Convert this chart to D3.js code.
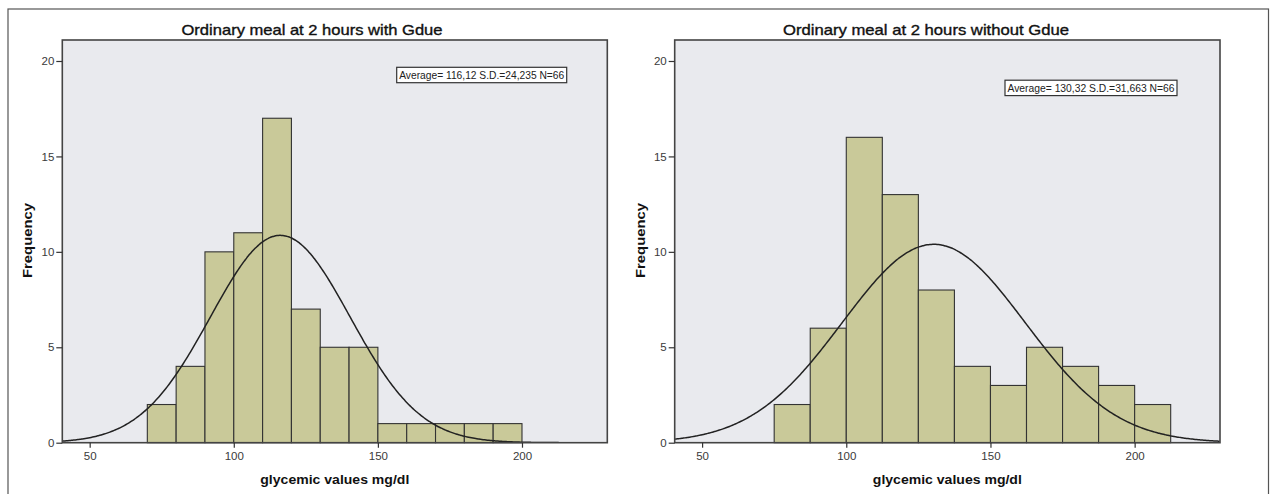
<!DOCTYPE html>
<html>
<head>
<meta charset="utf-8">
<script src="https://cdn.jsdelivr.net/npm/d3@7/dist/d3.min.js"></script>
<style>
  body { margin: 0; background: #fff; }
  text { font-family: "Liberation Sans", Arial, sans-serif; }
</style>
</head>
<body>
<svg width="1274" height="494"></svg>
<script>
// chart data
const titles = ["Ordinary meal at 2 hours with Gdue", "Ordinary meal at 2 hours without Gdue"];
const leftEdges = [70, 80, 90, 100, 110, 120, 130, 140, 150, 160, 170, 180, 190, 200];
const leftCounts = [2, 4, 10, 11, 17, 7, 5, 5, 1, 1, 1, 1, 1];
const rightEdges = [75, 87.5, 100, 112.5, 125, 137.5, 150, 162.5, 175, 187.5, 200, 212.5];
const rightCounts = [2, 6, 16, 13, 8, 4, 3, 5, 4, 3, 2];
const means = [116.12, 130.32];
const sds = [24.235, 31.663];
const ns = [66, 66];
const statLabels = ["Average= 116,12 S.D.=24,235 N=66", "Average= 130,32 S.D.=31,663 N=66"];
const xTicks = [50, 100, 150, 200];
const yTicks = [0, 5, 10, 15, 20];
const xLabel = "glycemic values mg/dl";
const yLabel = "Frequency";

let svg = d3.select("svg");

// outer frame
svg.append("rect")
    .attr("x", 8).attr("y", 9)
    .attr("width", 1260.5).attr("height", 500)
    .attr("fill", "none").attr("stroke", "#555").attr("stroke-width", 1.2);

let panels = [
    { left: 62.3, right: 607.3, titleX: 312, yLabX: 27, box: [396.7, 67.3, 170, 15.4],
      edges: leftEdges, counts: leftCounts },
    { left: 674.7, right: 1220, titleX: 926, yLabX: 640, box: [1005, 80.2, 172, 15.4],
      edges: rightEdges, counts: rightCounts }
];
let plotTop = 40, plotBottom = 442.7;

panels.forEach(function (p, i) {
    let x = d3.scaleLinear().domain([40.5, 229.6]).range([p.left, p.right]);
    let y = d3.scaleLinear().domain([0, 21.1]).range([plotBottom, plotTop]);
    let g = svg.append("g");

    g.append("text")
        .attr("x", p.titleX).attr("y", 34.7)
        .attr("text-anchor", "middle")
        .attr("textLength", i === 0 ? 261 : 286)
        .attr("lengthAdjust", "spacingAndGlyphs")
        .style("font-size", "14.5px").style("fill", "#111")
        .style("stroke", "#111").style("stroke-width", 0.35)
        .text(titles[i]);

    g.append("rect")
        .attr("x", p.left).attr("y", plotTop)
        .attr("width", p.right - p.left).attr("height", plotBottom - plotTop)
        .attr("fill", "#e9eaee");

    let clipId = "clip" + i;
    svg.append("clipPath").attr("id", clipId)
        .append("rect")
        .attr("x", p.left).attr("y", plotTop)
        .attr("width", p.right - p.left).attr("height", plotBottom - plotTop);

    let bins = p.counts.map(function (c, k) { return { x0: p.edges[k], x1: p.edges[k + 1], n: c }; });
    g.selectAll("rect.bar")
        .data(bins)
        .enter().append("rect")
        .attr("class", "bar")
        .attr("x", function (d) { return x(d.x0); })
        .attr("y", function (d) { return y(d.n); })
        .attr("width", function (d) { return x(d.x1) - x(d.x0); })
        .attr("height", function (d) { return y(0) - y(d.n); })
        .attr("fill", "#c9c999")
        .attr("stroke", "#333")
        .attr("stroke-width", 1.1);

    // fitted normal curve from the stated mean / S.D. / N
    let bw = p.edges[1] - p.edges[0];
    let dens = function (v) {
        return ns[i] * bw / (sds[i] * Math.sqrt(2 * Math.PI)) *
            Math.exp(-0.5 * Math.pow((v - means[i]) / sds[i], 2));
    };
    let line = d3.line()
        .x(function (v) { return x(v); })
        .y(function (v) { return y(dens(v)); })
        .curve(d3.curveBasis);
    g.append("path")
        .datum(d3.range(40.5, 229.7, 0.5))
        .attr("d", line)
        .attr("clip-path", "url(#" + clipId + ")")
        .attr("fill", "none")
        .attr("stroke", "#222")
        .attr("stroke-width", 1.5);

    g.append("rect")
        .attr("x", p.left).attr("y", plotTop)
        .attr("width", p.right - p.left).attr("height", plotBottom - plotTop)
        .attr("fill", "none").attr("stroke", "#444").attr("stroke-width", 1.6);

    let xAxis = g.append("g")
        .attr("transform", "translate(0," + plotBottom + ")")
        .call(d3.axisBottom(x).tickValues(xTicks).tickSize(5).tickSizeOuter(0).tickPadding(4));
    xAxis.select(".domain").remove();
    xAxis.selectAll("line").attr("stroke", "#333").attr("stroke-width", 1.2);
    xAxis.selectAll("text").style("font-size", "11.5px").style("fill", "#3a3a3a")
        .style("font-family", "'Liberation Sans', Arial, sans-serif");

    let yAxis = g.append("g")
        .attr("transform", "translate(" + p.left + ",0)")
        .call(d3.axisLeft(y).tickValues(yTicks).tickSize(6).tickSizeOuter(0).tickPadding(2));
    yAxis.select(".domain").remove();
    yAxis.selectAll("line").attr("stroke", "#333").attr("stroke-width", 1.2);
    yAxis.selectAll("text").style("font-size", "11.5px").style("fill", "#3a3a3a")
        .style("font-family", "'Liberation Sans', Arial, sans-serif");

    // stats box
    let b = p.box;
    g.append("rect")
        .attr("x", b[0]).attr("y", b[1]).attr("width", b[2]).attr("height", b[3])
        .attr("fill", "#fff").attr("stroke", "#333").attr("stroke-width", 1.2);
    g.append("text")
        .attr("x", b[0] + 2.5).attr("y", b[1] + 12)
        .attr("textLength", b[2] - 5)
        .attr("lengthAdjust", "spacingAndGlyphs")
        .style("font-size", "11.5px").style("fill", "#222")
        .text(statLabels[i]);

    g.append("text")
        .attr("x", (p.left + p.right) / 2).attr("y", 484)
        .attr("text-anchor", "middle")
        .attr("textLength", 149)
        .attr("lengthAdjust", "spacingAndGlyphs")
        .style("font-size", "13px").style("font-weight", "bold").style("fill", "#111")
        .text(xLabel);

    g.append("text")
        .attr("transform", "translate(" + (p.yLabX + 4.5) + ",240.5) rotate(-90)")
        .attr("text-anchor", "middle")
        .attr("textLength", 75)
        .attr("lengthAdjust", "spacingAndGlyphs")
        .style("font-size", "13px").style("font-weight", "bold").style("fill", "#111")
        .text(yLabel);
});
</script>
</body>
</html>
